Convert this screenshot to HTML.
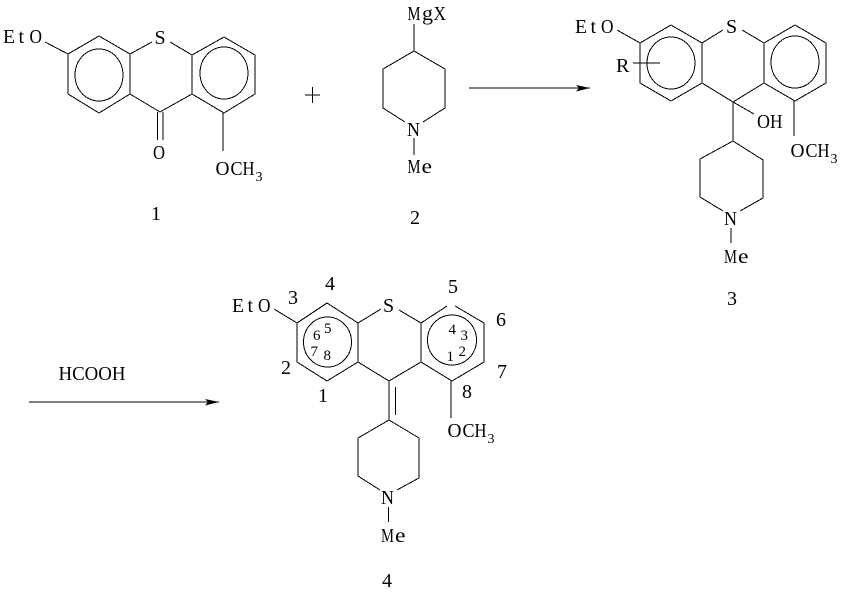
<!DOCTYPE html>
<html><head><meta charset="utf-8"><style>
html,body{margin:0;padding:0;background:#fff;width:842px;height:599px;overflow:hidden}
svg{display:block}
text{font-family:"Liberation Serif",serif;font-size:20px;fill:#000}
text.s{font-size:14px}
text.sm{font-size:15px}
.l{fill:none;stroke:#000;stroke-width:1;shape-rendering:crispEdges}
</style></head><body>
<svg width="842" height="599" viewBox="0 0 842 599" xmlns="http://www.w3.org/2000/svg">
<g class="l">
<!-- 1 -->
<path d="M45 42L68 54L99 36L130 54L130 94L99 113L68 94L68 54M130 54L152 42M170 42L192 55L224 37L255 55L255 94L224 113L192 94L192 55M130 94L160 112L192 94M157.500 112V140M163 112V140M223 113V151"/>
<ellipse cx="99" cy="75" rx="24" ry="26"/><ellipse cx="224" cy="73" rx="24" ry="26"/>
<!-- 2 -->
<path d="M414 24V51L445 69V108L423 122M405 122L383 108V69L414 51M414 138V155"/>
<path d="M305 95H320M312.500 87V103"/>
<path d="M469 88H590"/>
<!-- 3 -->
<path d="M617 30L640 43L671 25L702 43V83L671 101L640 83V43M702 43L723 30M742 30L764 43L795 25L826 43V83L795 101L764 83V43M702 83L733 102L764 83M733 102L754 114M733 102V141L763 160V198L740 211M723 211L700 197V159L733 141M794 101V136M633 63H660M731 228V243"/>
<ellipse cx="671" cy="63" rx="24" ry="26"/><ellipse cx="795" cy="62" rx="24" ry="26"/>
<!-- 4 -->
<path d="M274 309L297 323L327 303L358 323V362L327 381L297 362V323M358 323L381 309M399 310L421 323L447 306M455 306L484 323V362L452 381L421 362V323M358 362L389 381L421 362M389 381V420M395.500 387V415M389 420L358 438V476L380 490M397 490L419 478V438L389 420M451 381V418M388.500 507V522"/>
<ellipse cx="327.500" cy="342" rx="24" ry="25"/><ellipse cx="452" cy="340" rx="24.500" ry="25"/>
<path d="M29 402H219"/>
</g>
<path d="M576 85L590 88L576 91.500L579 88Z"/>
<path d="M205 399L219 402L205 405.500L208 402Z"/>

<text x="3" y="43" textLength="12" lengthAdjust="spacingAndGlyphs">E</text><text x="18.500" y="43">t</text><text x="29.500" y="43" textLength="12.500" lengthAdjust="spacingAndGlyphs">O</text>
<text x="154.500" y="44">S</text>
<text x="153" y="159" textLength="12" lengthAdjust="spacingAndGlyphs">O</text>
<text x="215.500" y="175" textLength="14" lengthAdjust="spacingAndGlyphs">O</text><text x="230.500" y="175" textLength="12" lengthAdjust="spacingAndGlyphs">C</text><text x="242.500" y="175" textLength="12" lengthAdjust="spacingAndGlyphs">H</text><text x="255.500" y="181" class="s">3</text>
<text x="151" y="220">1</text>

<text x="407.500" y="20" textLength="13" lengthAdjust="spacingAndGlyphs">M</text><text x="422" y="20" textLength="11" lengthAdjust="spacingAndGlyphs">g</text><text x="433.500" y="20" textLength="12.500" lengthAdjust="spacingAndGlyphs">X</text>
<text x="407" y="136" textLength="13" lengthAdjust="spacingAndGlyphs">N</text>
<text x="407.500" y="173" textLength="13" lengthAdjust="spacingAndGlyphs">M</text><text x="421.500" y="173" textLength="10.500" lengthAdjust="spacingAndGlyphs">e</text>
<text x="410" y="224">2</text>

<text x="575" y="33" textLength="12" lengthAdjust="spacingAndGlyphs">E</text><text x="590.500" y="33">t</text><text x="601" y="33" textLength="12.500" lengthAdjust="spacingAndGlyphs">O</text>
<text x="726" y="33">S</text>
<text x="616" y="72">R</text>
<text x="757" y="128" textLength="13" lengthAdjust="spacingAndGlyphs">O</text><text x="770" y="128" textLength="12.500" lengthAdjust="spacingAndGlyphs">H</text>
<text x="790.500" y="157" textLength="14" lengthAdjust="spacingAndGlyphs">O</text><text x="805.500" y="157" textLength="12" lengthAdjust="spacingAndGlyphs">C</text><text x="817.500" y="157" textLength="12" lengthAdjust="spacingAndGlyphs">H</text><text x="830.500" y="163" class="s">3</text>
<text x="724" y="225" textLength="13" lengthAdjust="spacingAndGlyphs">N</text>
<text x="724" y="263" textLength="13" lengthAdjust="spacingAndGlyphs">M</text><text x="738" y="263" textLength="10.500" lengthAdjust="spacingAndGlyphs">e</text>
<text x="727" y="305">3</text>

<text x="232" y="312" textLength="12" lengthAdjust="spacingAndGlyphs">E</text><text x="247.500" y="312">t</text><text x="258" y="312" textLength="12.500" lengthAdjust="spacingAndGlyphs">O</text>
<text x="383" y="312">S</text>
<text x="447.500" y="437" textLength="14" lengthAdjust="spacingAndGlyphs">O</text><text x="462.500" y="437" textLength="12" lengthAdjust="spacingAndGlyphs">C</text><text x="474.500" y="437" textLength="12" lengthAdjust="spacingAndGlyphs">H</text><text x="487.500" y="443" class="s">3</text>
<text x="381" y="504" textLength="13" lengthAdjust="spacingAndGlyphs">N</text>
<text x="381" y="542" textLength="13" lengthAdjust="spacingAndGlyphs">M</text><text x="395" y="542" textLength="10.500" lengthAdjust="spacingAndGlyphs">e</text>
<text x="382" y="587">4</text>

<text x="288" y="304">3</text>
<text x="325" y="290">4</text>
<text x="448" y="293">5</text>
<text x="496" y="326">6</text>
<text x="497" y="378">7</text>
<text x="462" y="398">8</text>
<text x="318" y="402">1</text>
<text x="281" y="374">2</text>

<text class="sm" x="313" y="340">6</text>
<text class="sm" x="324" y="333">5</text>
<text class="sm" x="310.500" y="356">7</text>
<text class="sm" x="323.500" y="360">8</text>
<text class="sm" x="448.500" y="334">4</text>
<text class="sm" x="460.500" y="340">3</text>
<text class="sm" x="458.500" y="356">2</text>
<text class="sm" x="446.500" y="361">1</text>

<text x="58.500" y="380" textLength="67" lengthAdjust="spacingAndGlyphs">HCOOH</text>
</svg>
</body></html>
